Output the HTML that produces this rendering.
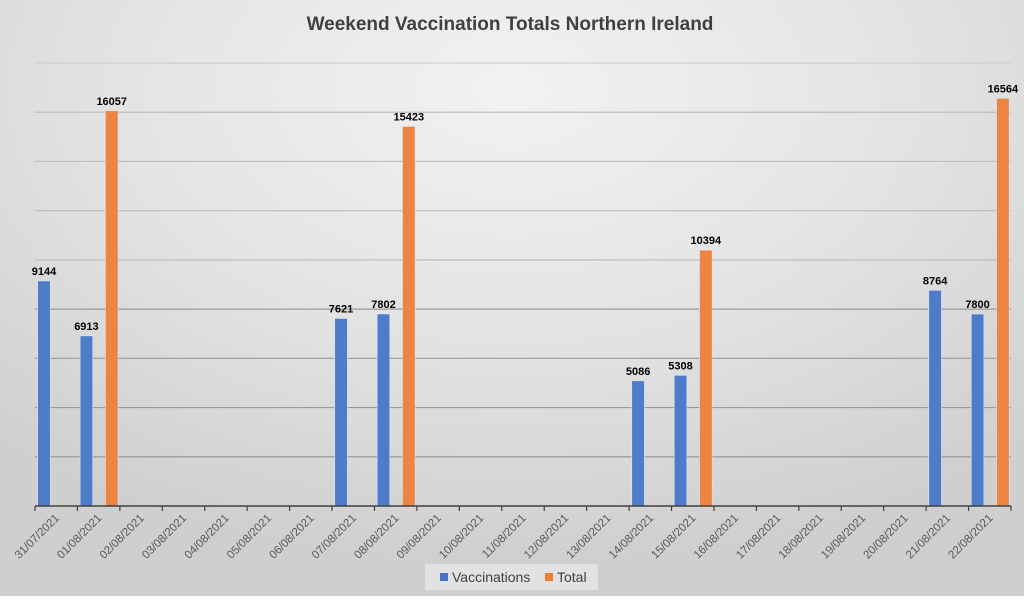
<!DOCTYPE html>
<html><head><meta charset="utf-8"><style>
html,body{margin:0;padding:0;background:#fff;}
#wrap{position:relative;width:1024px;height:602px;overflow:hidden;font-family:"Liberation Sans",sans-serif;}
#bg{position:absolute;left:0;top:0;width:1024px;height:596px;background:radial-gradient(ellipse 75% 80% at 50% 15%,#f2f2f2 0%,#e4e4e4 50%,#cfcfcf 100%);}
svg{position:absolute;left:0;top:0;}
</style></head><body>
<div id="wrap">
<div id="bg"></div>
<svg id="chart" width="1024" height="602">
<text x="510" y="30" text-anchor="middle" font-size="19" font-weight="bold" fill="#404040">Weekend Vaccination Totals Northern Ireland</text>
<g id="grid"></g>
<g id="bars"></g>
<g id="xaxis"></g>
<g>
<rect x="425" y="564" width="173" height="26" fill="#e2e2e2"/>
<rect x="440" y="573" width="8" height="8" fill="#4472c4"/>
<text x="452" y="582" font-size="14" fill="#404040">Vaccinations</text>
<rect x="545" y="573" width="8" height="8" fill="#ed7d31"/>
<text x="557" y="582" font-size="14" fill="#404040">Total</text>
</g>
</svg>
</div>
<script>
const categories=["31/07/2021","01/08/2021","02/08/2021","03/08/2021","04/08/2021","05/08/2021","06/08/2021","07/08/2021","08/08/2021","09/08/2021","10/08/2021","11/08/2021","12/08/2021","13/08/2021","14/08/2021","15/08/2021","16/08/2021","17/08/2021","18/08/2021","19/08/2021","20/08/2021","21/08/2021","22/08/2021"];
const vaccinations=[9144,6913,null,null,null,null,null,7621,7802,null,null,null,null,null,5086,5308,null,null,null,null,null,8764,7800];
const totals=[null,16057,null,null,null,null,null,null,15423,null,null,null,null,null,null,10394,null,null,null,null,null,null,16564];
const yTicks=[0,2000,4000,6000,8000,10000,12000,14000,16000,18000];

const NS="http://www.w3.org/2000/svg";
const X0=35,X1=1011,Y0=506,YMAX=18000,YTOP=63;
const cw=(X1-X0)/categories.length;
function xCat(i){return X0+i*cw;}
function yVal(v){return Y0-(v/YMAX)*(Y0-YTOP);}
function mk(tag,attrs,parent){const e=document.createElementNS(NS,tag);for(const k in attrs)e.setAttribute(k,attrs[k]);parent.appendChild(e);return e;}
const grid=document.getElementById('grid'),bars=document.getElementById('bars'),xa=document.getElementById('xaxis');
yTicks.forEach(t=>{if(t===0)return;const y=yVal(t);
 const c=t<=8000?'#9a9a9a':(t>=18000?'#d0d0d0':'#bdbdbd');
 const l=mk('line',{x1:X0,x2:X1,y1:y,y2:y,stroke:c,'stroke-width':1.2},grid);
 
 
});
const BW=12.6;
function drawBar(i,v,off,color,name){
 if(v==null)return;
 const x=xCat(i)+off,y=yVal(v);
 const r=mk('rect',{x:x,y:y,width:BW,height:Y0-y,fill:color,stroke:'#dbe3f3','stroke-width':0.6},bars);
 
 
 const t=mk('text',{x:x+BW/2,y:y-6,'text-anchor':'middle','font-size':11,'font-weight':'bold',fill:'#000'},bars);
 t.textContent=v;
 
 
}
categories.forEach((c,i)=>{
 drawBar(i,vaccinations[i],2.7,'#4f7cc9','bar-vaccinations');
 drawBar(i,totals[i],28,'#ec8540','bar-total');
});
const ax=mk('line',{x1:X0,x2:X1,y1:Y0,y2:Y0,stroke:'#404040','stroke-width':1.5},xa);


for(let i=0;i<=categories.length;i++){
 const tk=mk('line',{x1:xCat(i),x2:xCat(i),y1:Y0,y2:Y0+5,stroke:'#404040','stroke-width':1.2},xa);
 
 
}
categories.forEach((c,i)=>{
 const cx=xCat(i)+cw/2-2,cy=Y0+7;
 const t=mk('text',{x:cx,y:cy,'text-anchor':'end','font-size':11.5,fill:'#595959',transform:`rotate(-45 ${cx} ${cy})`,dy:'0.7em'},xa);
 t.textContent=c;
 
 
});
</script>
</body></html>
